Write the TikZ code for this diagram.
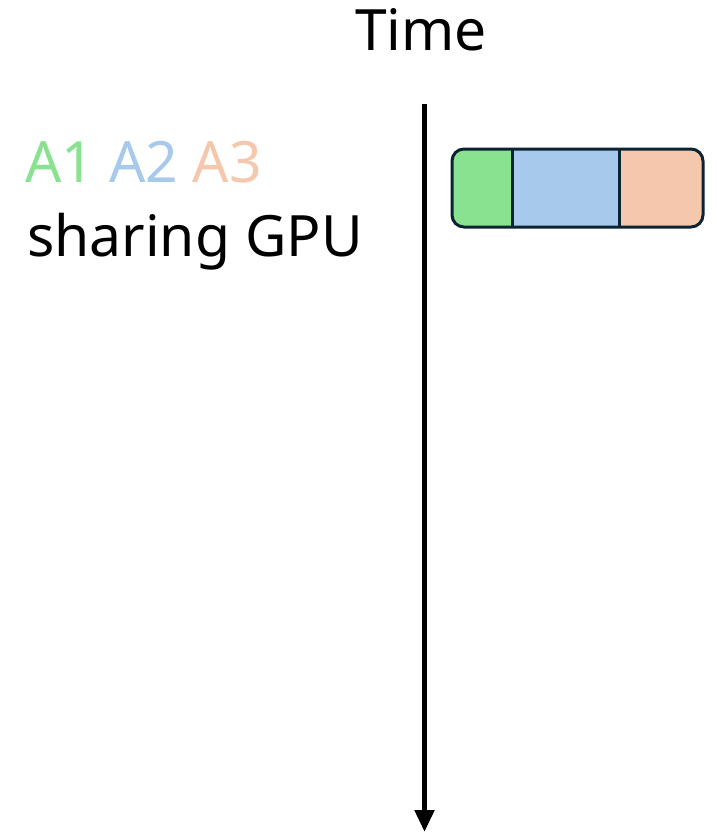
\documentclass[tikz,border=0pt]{standalone}
\usepackage{fontspec}
\setmainfont{Noto Sans}
\usetikzlibrary{arrows.meta}
\definecolor{aone}{HTML}{88E28F}
\definecolor{atwo}{HTML}{A7CAEC}
\definecolor{athree}{HTML}{F5C8AE}
\definecolor{edge}{HTML}{0B2333}
\tikzset{
  lbl/.style={inner sep=0pt, anchor=base west, font=\fontsize{57}{60}\selectfont},
  seg/.style={draw=edge, line width=3pt},
}
\begin{document}
\begin{tikzpicture}[x=1pt, y=-1pt]
  \useasboundingbox (0,0) rectangle (716,833);
  % time axis
  \node[lbl, anchor=base] (time) at (421,50) {Time};
  \coordinate (top) at (424.5,104);
  \coordinate (bot) at (424.5,832);
  \draw[line width=5pt, -{Triangle[length=22pt, width=19pt]}] (top) -- (bot);
  % legend
  \node[lbl] (apps) at (25,182)
    {\textcolor{aone}{A1} \textcolor{atwo}{A2} \textcolor{athree}{A3}};
  \node[lbl] (share) at (27,256) {sharing GPU};
  % GPU time slices
  \begin{scope}
    \clip[rounded corners=12pt] (452,149) rectangle (703,227);
    \fill[aone] (452,149) rectangle (512,227);
    \fill[atwo] (512,149) rectangle (619,227);
    \fill[athree] (619,149) rectangle (703,227);
  \end{scope}
  \draw[seg] (512,149) -- (512,227);
  \draw[seg] (619,149) -- (619,227);
  \draw[seg, rounded corners=12pt] (452,149) rectangle (703,227);
\end{tikzpicture}
\end{document}
